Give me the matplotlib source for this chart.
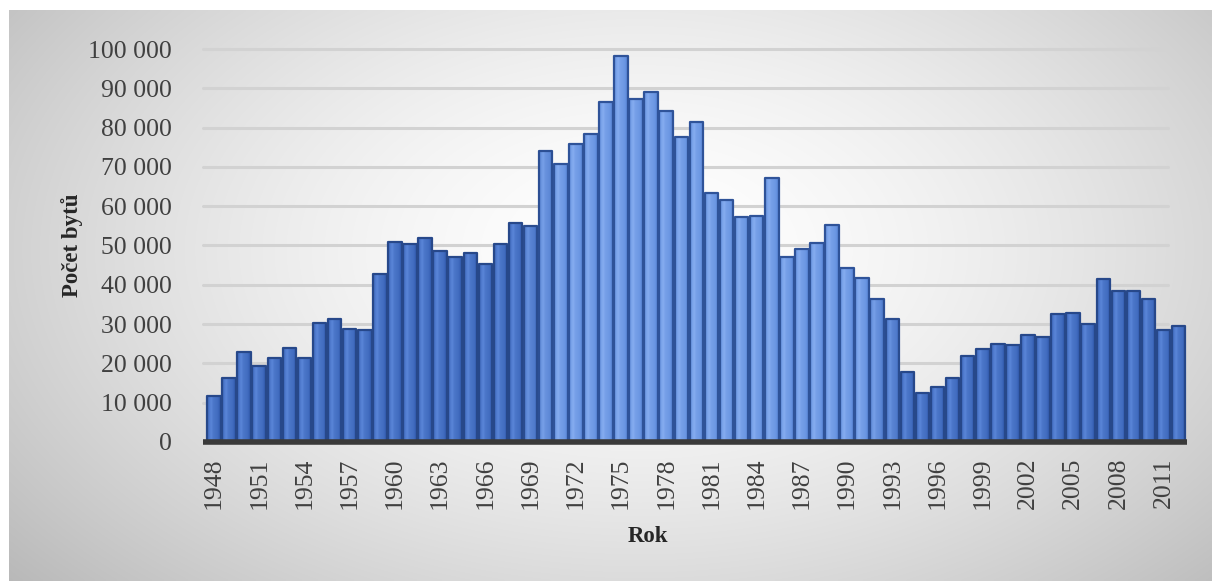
import numpy as np
import matplotlib
matplotlib.use("Agg")
import matplotlib.pyplot as plt
from matplotlib.patches import Rectangle
from matplotlib.ticker import FuncFormatter, FixedLocator
from matplotlib.colors import to_rgb

# Completed dwellings per year
years = list(range(1948, 2013))
dwellings = [
    11700, 16400, 23000, 19400, 21300, 23800, 21500, 30400, 31300, 28800,
    28500, 42800, 50900, 50400, 51800, 48700, 47100, 48200, 45200, 50300,
    55800, 55000, 74000, 70700, 75900, 78400, 86500, 98300, 87200, 89000,
    84200, 77700, 81500, 63300, 61700, 57300, 57500, 67100, 47000, 49000,
    50700, 55300, 44400, 41800, 36500, 31400, 17700, 12500, 14100, 16400,
    21900, 23600, 25000, 24600, 27100, 26800, 32500, 32900, 30100, 41600,
    38300, 38300, 36300, 28500, 29400,
]
x_tick_years = list(range(1948, 2013, 3))
y_ticks = list(range(0, 100001, 10000))
x_title = "Rok"
y_title = "Počet bytů"

W, H = 1212, 581
fig = plt.figure(figsize=(W / 100, H / 100), dpi=100)
fig.patch.set_facecolor("white")

# Radial grey-to-white backdrop of the chart area
bg = fig.add_axes([9 / W, 0, 1 - 9 / W, 1 - 10 / H], zorder=-5)
gx = np.linspace(9, W, 400)
gy = np.linspace(10, H, 200)
GX, GY = np.meshgrid(gx, gy)
d = np.sqrt(((GX - 640) / 700) ** 2 + ((GY - 250) / 430) ** 2)
shade = 1.0 - 0.21 * np.clip(d, 0, 1.4) ** 1.6
img = np.dstack([shade, shade, shade])
bg.imshow(img, extent=[0, 1, 0, 1], aspect="auto", origin="upper", interpolation="bilinear")
bg.set_axis_off()

# Plot area
x0_px, x1_px = 205, 1187
y0_px, y1_px = 442, 49
ax = fig.add_axes([x0_px / W, (H - y0_px) / H, (x1_px - x0_px) / W, (y0_px - y1_px) / H])
ax.patch.set_alpha(0)
xmin, xmax = 1947.4, 2012.55
ax.set_xlim(xmin, xmax)
ax.set_ylim(0, 100000)

for s in ax.spines.values():
    s.set_visible(False)

# Horizontal gridlines
for t in y_ticks[1:]:
    ax.plot([xmin - 0.1, 2011.3], [t, t], color="#d2d2d2", lw=2.2, zorder=1,
            solid_capstyle="round", clip_on=False)

# Bars with a cylindrical shading gradient
dark_base = np.array(to_rgb("#3660b4"))
dark_hi = np.array(to_rgb("#5a86d8"))
dark_edge = np.array(to_rgb("#27488a"))
light_base = np.array(to_rgb("#5f8cdc"))
light_hi = np.array(to_rgb("#86adf0"))
light_edge = np.array(to_rgb("#2f5399"))

bw = 0.9
u = np.linspace(0, 1, 64)
for yr, v in zip(years, dwellings):
    dist = abs(yr - 1981)
    wgt = float(np.clip(1 - (dist - 10) / 3.0, 0, 1))
    base = dark_base * (1 - wgt) + light_base * wgt
    hi = dark_hi * (1 - wgt) + light_hi * wgt
    edge = dark_edge * (1 - wgt) + light_edge * wgt
    # brightness profile across bar width
    prof = np.interp(u, [0, 0.12, 0.3, 0.45, 0.75, 0.9, 1.0],
                     [0.0, 0.55, 1.0, 0.6, 0.35, 0.0, -0.35])
    cols = np.empty((1, len(u), 3))
    for i, p in enumerate(prof):
        if p >= 0:
            c = base + (hi - base) * p
        else:
            c = base + (edge - base) * (-p)
        cols[0, i] = np.clip(c, 0, 1)
    left = yr - bw / 2
    rect = Rectangle((left, 0), bw, v, facecolor="none", edgecolor=edge,
                     lw=1.6, zorder=4, joinstyle="round")
    ax.add_patch(rect)
    im = ax.imshow(cols, extent=[left, left + bw, 0, v], aspect="auto",
                   zorder=3, interpolation="bilinear")
    im.set_clip_path(rect)

ax.set_xlim(xmin, xmax)
ax.set_ylim(0, 100000)
ax.set_aspect("auto")

# Baseline
ax.plot([xmin - 0.1, xmax], [0, 0], color="#3a3a3a", lw=4, zorder=6,
        solid_capstyle="butt", clip_on=False)

serif = ["Liberation Serif", "DejaVu Serif"]
ax.yaxis.set_major_locator(FixedLocator(y_ticks))
ax.yaxis.set_major_formatter(FuncFormatter(lambda v, p: f"{int(v):,}".replace(",", " ")))
ax.set_xticks(x_tick_years)
ax.set_xticklabels([str(y) for y in x_tick_years], rotation=90)
ax.tick_params(axis="both", length=0, labelsize=18.5, colors="#404040")
ax.tick_params(axis="y", pad=24)
ax.tick_params(axis="x", pad=11)
for lab in ax.get_xticklabels() + ax.get_yticklabels():
    lab.set_fontfamily(serif)
    lab.set_color("#404040")

fig.text(648 / W, 1 - 537 / H, x_title, ha="center", va="center",
         fontsize=16.5, fontweight="bold", family=serif, color="#262626")
fig.text(72 / W, 1 - 245 / H, y_title, ha="center", va="center", rotation=90,
         fontsize=16.5, fontweight="bold", family=serif, color="#262626")

fig.savefig("out.png", dpi=100, facecolor=fig.get_facecolor())
